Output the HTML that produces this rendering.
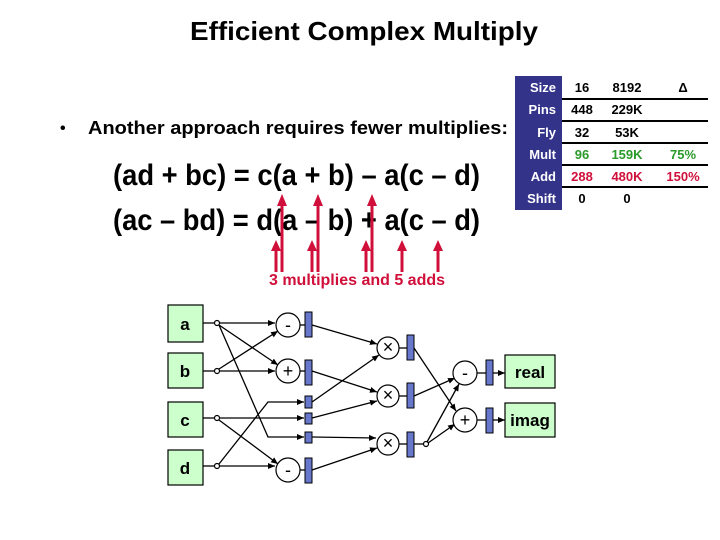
<!DOCTYPE html>
<html><head><style>
body{margin:0;background:#fff;}
svg{display:block;font-family:"Liberation Sans",Arial,sans-serif;font-weight:bold;}
</style></head><body>
<svg width="720" height="540" viewBox="0 0 720 540">
<defs>
<marker id="ar" markerWidth="8" markerHeight="8" refX="7" refY="4" orient="auto" markerUnits="userSpaceOnUse"><path d="M0,1 L7,4 L0,7 z" fill="#000"/></marker>
</defs>
<text x="190" y="40" font-size="26" textLength="348" lengthAdjust="spacingAndGlyphs">Efficient Complex Multiply</text>
<text x="60" y="133" font-size="16">•</text>
<text x="88" y="134" font-size="18" textLength="420" lengthAdjust="spacingAndGlyphs">Another approach requires fewer multiplies:</text>
<text x="113" y="185" font-size="30" textLength="367" lengthAdjust="spacingAndGlyphs">(ad + bc) = c(a + b) – a(c – d)</text>
<text x="113" y="230" font-size="30" textLength="367" lengthAdjust="spacingAndGlyphs">(ac – bd) = d(a – b) + a(c – d)</text>
<g stroke="#d0103a" stroke-width="3" fill="#d0103a">
<line x1="282" y1="272" x2="282" y2="205"/><path d="M277,206 L282,194 L287,206 z" stroke="none"/>
<line x1="318" y1="272" x2="318" y2="205"/><path d="M313,206 L318,194 L323,206 z" stroke="none"/>
<line x1="372" y1="272" x2="372" y2="205"/><path d="M367,206 L372,194 L377,206 z" stroke="none"/>
<line x1="276" y1="272" x2="276" y2="250"/><path d="M271,251 L276,240 L281,251 z" stroke="none"/>
<line x1="312" y1="272" x2="312" y2="250"/><path d="M307,251 L312,240 L317,251 z" stroke="none"/>
<line x1="366" y1="272" x2="366" y2="250"/><path d="M361,251 L366,240 L371,251 z" stroke="none"/>
<line x1="402" y1="272" x2="402" y2="250"/><path d="M397,251 L402,240 L407,251 z" stroke="none"/>
<line x1="438" y1="272" x2="438" y2="250"/><path d="M433,251 L438,240 L443,251 z" stroke="none"/>
</g>
<text x="357" y="285" font-size="16" fill="#d0103a" text-anchor="middle">3 multiplies and 5 adds</text>
<rect x="515" y="76" width="47" height="134" fill="#33338a"/>
<g stroke="#000" stroke-width="2">
<line x1="562" y1="99" x2="708" y2="99"/><line x1="562" y1="121" x2="708" y2="121"/><line x1="562" y1="143" x2="708" y2="143"/><line x1="562" y1="165" x2="708" y2="165"/><line x1="562" y1="187" x2="708" y2="187"/>
</g>
<g font-size="13" fill="#fff" text-anchor="end">
<text x="556" y="92">Size</text><text x="556" y="114">Pins</text><text x="556" y="137">Fly</text><text x="556" y="159">Mult</text><text x="556" y="181">Add</text><text x="556" y="203">Shift</text>
</g>
<g font-size="13" text-anchor="middle">
<text x="582" y="92">16</text><text x="627" y="92">8192</text><text x="683" y="92">Δ</text>
<text x="582" y="114">448</text><text x="627" y="114">229K</text>
<text x="582" y="137">32</text><text x="627" y="137">53K</text>
<g fill="#2a9a2a"><text x="582" y="159">96</text><text x="627" y="159">159K</text><text x="683" y="159">75%</text></g>
<g fill="#d0103a"><text x="582" y="181">288</text><text x="627" y="181">480K</text><text x="683" y="181">150%</text></g>
<text x="582" y="203">0</text><text x="627" y="203">0</text>
</g>
<g fill="#ccffcc" stroke="#000" stroke-width="1.2">
<rect x="168" y="305" width="35" height="37"/><rect x="168" y="353" width="35" height="35"/>
<rect x="168" y="402" width="35" height="35"/><rect x="168" y="450" width="35" height="35"/>
<rect x="505" y="355" width="50" height="33"/><rect x="505" y="403" width="50" height="34"/>
</g>
<g font-size="17" text-anchor="middle">
<text x="185" y="330">a</text><text x="185" y="377">b</text><text x="185" y="426">c</text><text x="185" y="474">d</text>
<text x="530" y="378">real</text><text x="530" y="426">imag</text>
</g>
<g stroke="#000" stroke-width="1.3" fill="none">
<line x1="203" y1="323" x2="214" y2="323"/><line x1="203" y1="371" x2="214" y2="371"/><line x1="203" y1="418" x2="214" y2="418"/><line x1="203" y1="466" x2="214" y2="466"/>
<line x1="220" y1="323" x2="275" y2="323" marker-end="url(#ar)"/>
<line x1="219" y1="325" x2="278" y2="365" marker-end="url(#ar)"/>
<polyline points="219,325 268,437 304,437" marker-end="url(#ar)"/>
<line x1="220" y1="371" x2="275" y2="371" marker-end="url(#ar)"/>
<line x1="219" y1="369" x2="278" y2="331" marker-end="url(#ar)"/>
<line x1="220" y1="418" x2="304" y2="418" marker-end="url(#ar)"/>
<line x1="219" y1="420" x2="278" y2="464" marker-end="url(#ar)"/>
<line x1="220" y1="466" x2="275" y2="466" marker-end="url(#ar)"/>
<polyline points="219,464 268,402 304,402" marker-end="url(#ar)"/>
<line x1="312" y1="325" x2="377" y2="344" marker-end="url(#ar)"/>
<line x1="312" y1="371" x2="377" y2="392" marker-end="url(#ar)"/>
<line x1="312" y1="402" x2="379" y2="355" marker-end="url(#ar)"/>
<line x1="312" y1="418" x2="377" y2="401" marker-end="url(#ar)"/>
<line x1="312" y1="437" x2="376" y2="438" marker-end="url(#ar)"/>
<line x1="312" y1="470" x2="377" y2="448" marker-end="url(#ar)"/>
<line x1="414" y1="348" x2="456" y2="411" marker-end="url(#ar)"/>
<line x1="414" y1="396" x2="455" y2="378" marker-end="url(#ar)"/>
<line x1="414" y1="444" x2="424" y2="444"/>
<line x1="427" y1="442" x2="459" y2="384" marker-end="url(#ar)"/>
<line x1="428" y1="443" x2="455" y2="424" marker-end="url(#ar)"/>
<line x1="493" y1="373" x2="505" y2="373" marker-end="url(#ar)"/>
<line x1="493" y1="420" x2="505" y2="420" marker-end="url(#ar)"/>
<line x1="300" y1="325" x2="305" y2="325"/><line x1="300" y1="371" x2="305" y2="371"/><line x1="300" y1="470" x2="305" y2="470"/>
<line x1="399" y1="348" x2="407" y2="348"/><line x1="399" y1="396" x2="407" y2="396"/><line x1="399" y1="444" x2="407" y2="444"/>
<line x1="477" y1="373" x2="486" y2="373"/><line x1="477" y1="420" x2="486" y2="420"/>
</g>
<g fill="#fff" stroke="#000" stroke-width="1.2">
<circle cx="217" cy="323" r="2.5"/><circle cx="217" cy="371" r="2.5"/><circle cx="217" cy="418" r="2.5"/><circle cx="217" cy="466" r="2.5"/><circle cx="426" cy="444" r="2.5"/>
<circle cx="288" cy="325" r="12"/><circle cx="288" cy="371" r="12"/><circle cx="288" cy="470" r="12"/>
<circle cx="388" cy="348" r="11"/><circle cx="388" cy="396" r="11"/><circle cx="388" cy="444" r="11"/>
<circle cx="465" cy="373" r="12"/><circle cx="465" cy="420" r="12"/>
</g>
<g font-size="18" text-anchor="middle" font-weight="normal">
<text x="288" y="331">-</text><text x="288" y="377">+</text><text x="288" y="476">-</text>
<text x="388" y="353">×</text><text x="388" y="401">×</text><text x="388" y="449">×</text>
<text x="465" y="379">-</text><text x="465" y="426">+</text>
</g>
<g fill="#6677cc" stroke="#000" stroke-width="1">
<rect x="305" y="312" width="7" height="25"/><rect x="305" y="360" width="7" height="25"/><rect x="305" y="458" width="7" height="25"/>
<rect x="305" y="396" width="7" height="12"/><rect x="305" y="413" width="7" height="11"/><rect x="305" y="432" width="7" height="11"/>
<rect x="407" y="335" width="7" height="25"/><rect x="407" y="383" width="7" height="25"/><rect x="407" y="432" width="7" height="25"/>
<rect x="486" y="360" width="7" height="25"/><rect x="486" y="408" width="7" height="25"/>
</g>
</svg>
</body></html>
